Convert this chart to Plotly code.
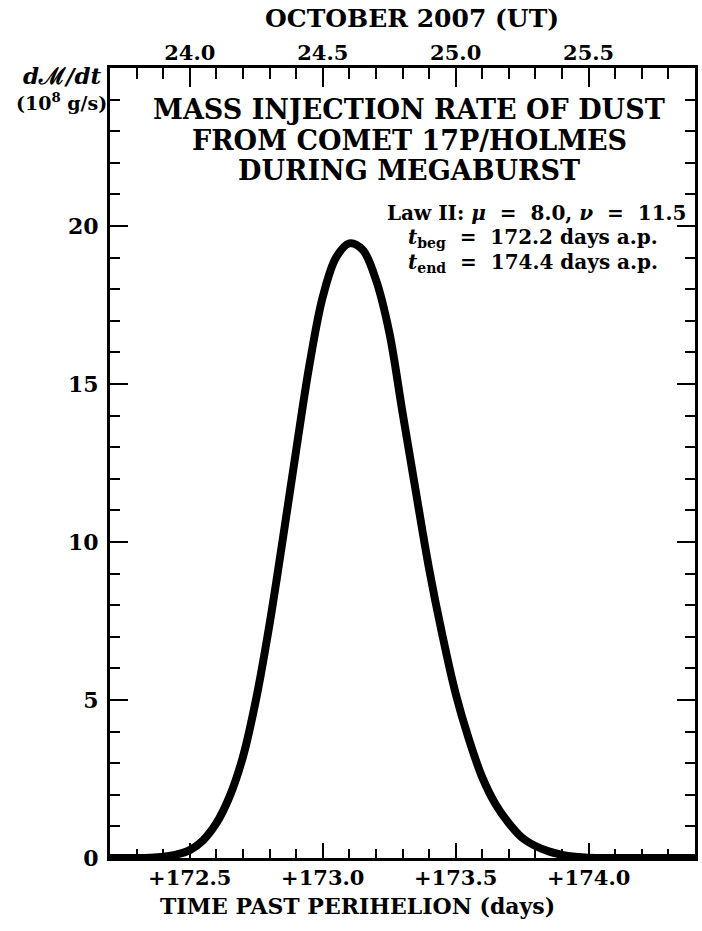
import plotly.graph_objects as go

# ---- data ----
times = [172.20, 172.30, 172.35, 172.40, 172.45, 172.50, 172.55, 172.60, 172.65, 172.70,
         172.75, 172.80, 172.85, 172.90, 172.95, 173.00, 173.05, 173.10, 173.15, 173.20,
         173.25, 173.30, 173.35, 173.40, 173.45, 173.50, 173.55, 173.60, 173.65, 173.70,
         173.75, 173.80, 173.85, 173.90, 173.95, 174.00, 174.10, 174.40]
rate = [0.00, 0.00, 0.01, 0.04, 0.11, 0.25, 0.56, 1.10, 1.95, 3.20,
        5.05, 7.40, 10.10, 12.90, 15.60, 17.75, 19.00, 19.45, 19.25, 18.30,
        16.65, 14.10, 11.60, 9.15, 7.05, 5.20, 3.75, 2.55, 1.70, 1.10,
        0.64, 0.38, 0.21, 0.10, 0.04, 0.01, 0.00, 0.00]

x_range = [172.2, 174.4]
x_ticks = [172.5, 173.0, 173.5, 174.0]
x_labels = ["+172.5", "+173.0", "+173.5", "+174.0"]
oct_offset = 148.5          # October 0.0 UT expressed in days past perihelion
oct_ticks = [24.0, 24.5, 25.0, 25.5]
oct_labels = ["24.0", "24.5", "25.0", "25.5"]
y_range = [0, 25]
y_ticks = [0, 5, 10, 15, 20]
y_labels = ["0", "5", "10", "15", "20"]

# ---- layout geometry ----
W, H = 702, 931
L, R, T, B = 110, 7, 68, 73
def px_x(px):
    return (px - L) / (W - L - R)
def px_y(py):
    return (H - B - py) / (H - T - B)

FONT = "DejaVu Serif"

fig = go.Figure()
fig.add_trace(go.Scatter(x=times, y=rate, mode="lines",
                         line=dict(color="black", width=8, shape="spline", smoothing=1.0),
                         hoverinfo="skip", showlegend=False))
# invisible companion trace so the top (calendar-date) axis is drawn
fig.add_trace(go.Scatter(x=[t - oct_offset for t in times], y=rate, xaxis="x2", yaxis="y",
                         mode="lines", line=dict(width=0, color="rgba(0,0,0,0)"),
                         hoverinfo="skip", showlegend=False))

axis_common = dict(showgrid=False, zeroline=False, showline=True, linecolor="black",
                   linewidth=3, ticks="inside", tickcolor="black", tickwidth=2)

fig.update_layout(
    width=W, height=H, autosize=False,
    margin=dict(l=L, r=R, t=T, b=B, pad=0, autoexpand=False),
    paper_bgcolor="white", plot_bgcolor="white", showlegend=False,
    font=dict(family=FONT, color="black", size=19),
    xaxis=dict(range=x_range, tickvals=x_ticks, ticktext=x_labels, ticklen=15,
               ticklabelstandoff=-1,
               tickfont=dict(family=FONT, size=21, color="black", weight="bold"),
               minor=dict(dtick=0.1, tick0=172.2, ticks="inside", ticklen=9,
                          tickwidth=2, tickcolor="black"),
               **axis_common),
    xaxis2=dict(range=[x_range[0] - oct_offset, x_range[1] - oct_offset], overlaying="x",
                side="top", anchor="y", tickvals=oct_ticks, ticktext=oct_labels, ticklen=19,
                ticklabelstandoff=-3,
                tickfont=dict(family=FONT, size=21, color="black", weight="bold"),
                minor=dict(dtick=0.1, tick0=23.7, ticks="inside", ticklen=11,
                           tickwidth=2, tickcolor="black"),
                **axis_common),
    yaxis=dict(range=y_range, tickvals=y_ticks, ticktext=y_labels, ticklen=18,
               mirror="ticks", ticklabelstandoff=4,
               tickfont=dict(family=FONT, size=22, color="black", weight="bold"),
               minor=dict(dtick=1, tick0=0, ticks="inside", ticklen=10,
                          tickwidth=2, tickcolor="black"),
               **axis_common),
)

sp = "&nbsp;"
sp2 = sp * 2
ann = [
    dict(text="OCTOBER 2007 (UT)", x=412, y=18, size=25),
    dict(text="TIME PAST PERIHELION (days)", x=357, y=906, size=22),
    dict(text="MASS INJECTION RATE OF DUST", x=409, y=110, size=27),
    dict(text="FROM COMET 17P/HOLMES", x=409, y=140, size=27),
    dict(text="DURING MEGABURST", x=409, y=170, size=27),
    dict(text=f"Law II:{sp}<i>μ</i>{sp2}={sp2}8.0,{sp}<i>ν</i>{sp2}={sp2}11.5",
         x=536, y=213, size=20),
    dict(text=f"<i>t</i><sub>beg</sub>{sp2}={sp2}172.2 days a.p.", x=533, y=238, size=20),
    dict(text=f"<i>t</i><sub>end</sub>{sp2}={sp2}174.4 days a.p.", x=533, y=263, size=20),
    dict(text="<i>d</i>ℳ<i>/dt</i>", x=62, y=75, size=23),
    dict(text="(10<sup>8</sup> g/s)", x=61, y=102, size=19),
]
for a in ann:
    fig.add_annotation(text=a["text"], x=px_x(a["x"]), y=px_y(a["y"]),
                       xref="paper", yref="paper",
                       xanchor="center", yanchor="middle", showarrow=False, align="center",
                       font=dict(family=FONT, size=a["size"], color="black", weight="bold"))

fig.write_html("out.html", config={"displayModeBar": False},
               post_script="document.body.style.margin='0';document.body.style.overflow='hidden';")
